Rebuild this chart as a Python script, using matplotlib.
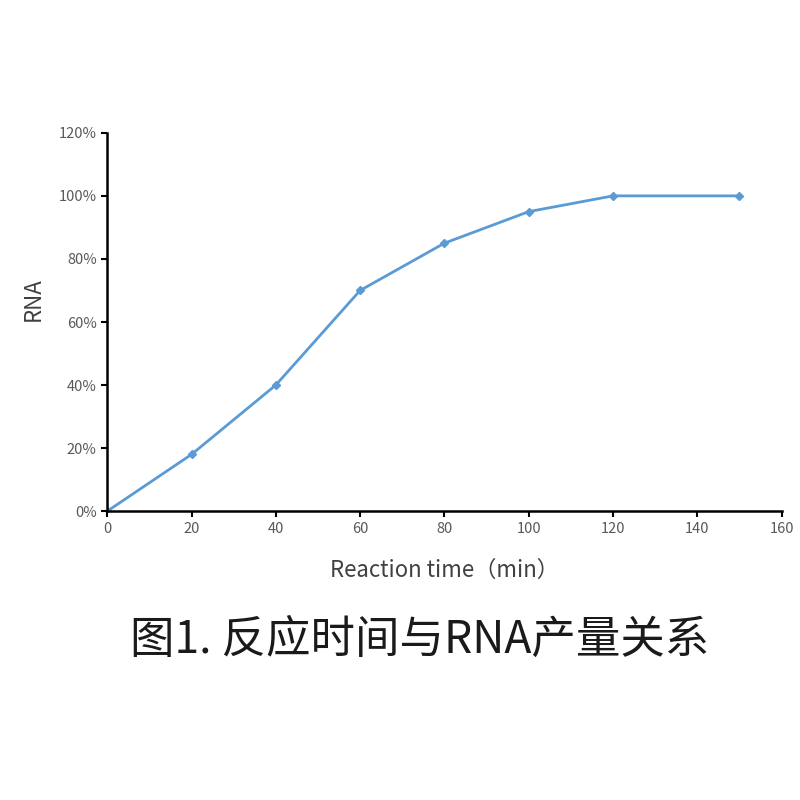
import matplotlib
matplotlib.use('Agg')
import matplotlib.pyplot as plt
from matplotlib.ticker import FuncFormatter

plt.rcParams['font.family'] = ['Noto Sans CJK SC', 'DejaVu Sans']

time_min = [0, 20, 40, 60, 80, 100, 120, 150]
rna_yield = [0.0, 0.18, 0.40, 0.70, 0.85, 0.95, 1.00, 1.00]

fig = plt.figure(figsize=(8, 8), dpi=100)
ax = fig.add_axes([0.134, 0.361, 0.843, 0.473])

ax.plot(time_min, rna_yield, color='#5b9bd5', linewidth=2,
        marker='D', markersize=4.5)

ax.set_xlim(0, 160)
ax.set_ylim(0, 1.2)
ax.set_xticks(range(0, 161, 20))
ax.set_yticks([0, 0.2, 0.4, 0.6, 0.8, 1.0, 1.2])
ax.yaxis.set_major_formatter(FuncFormatter(lambda v, p: f'{v*100:.0f}%'))

for s in ['top', 'right']:
    ax.spines[s].set_visible(False)
for s in ['left', 'bottom']:
    ax.spines[s].set_linewidth(1.8)
    ax.spines[s].set_color('black')
ax.tick_params(direction='out', length=4, width=1.5, colors='black',
               labelcolor='#595959', labelsize=10.5)

ax.set_xlabel('Reaction time（min）', fontsize=16, color='#404040')
ax.xaxis.set_label_coords(0.5, -0.125)
ax.set_ylabel('RNA', fontsize=16, color='#404040')
ax.yaxis.set_label_coords(-0.093, 0.56)

fig.text(0.525, 0.2, '图1. 反应时间与RNA产量关系', fontsize=32, color='#1a1a1a',
         ha='center', va='center')

fig.savefig('out.png', dpi=100, facecolor='white')
